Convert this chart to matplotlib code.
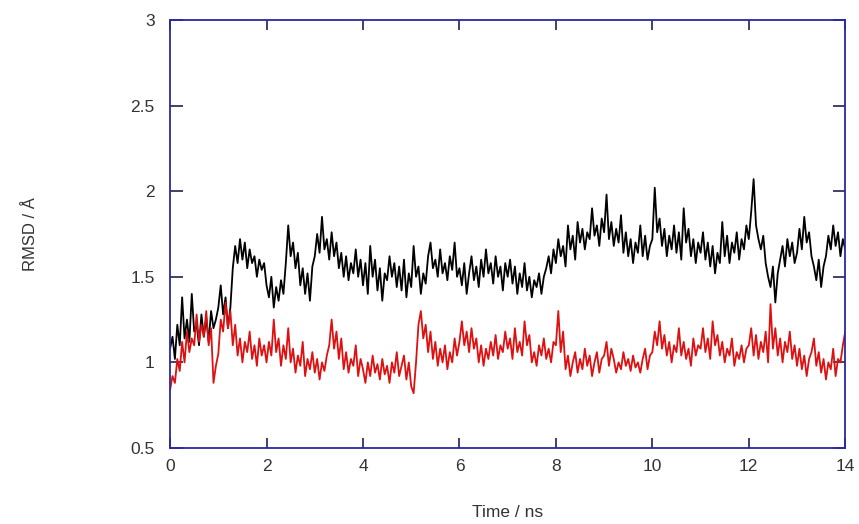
import numpy as np
import matplotlib.pyplot as plt

plt.rcParams['font.family'] = ['Liberation Sans', 'DejaVu Sans']

time_step = 0.05

rmsd_black = [
    1.08, 1.15, 1.02, 1.22, 1.10, 1.38, 1.14, 1.25, 1.12, 1.40, 1.18, 1.22, 1.10, 1.28, 1.15, 1.26, 1.12, 1.30, 1.20, 1.25,
    1.32, 1.45, 1.28, 1.38, 1.20, 1.32, 1.55, 1.68, 1.58, 1.72, 1.60, 1.70, 1.55, 1.66, 1.58, 1.62, 1.50, 1.60, 1.54, 1.58,
    1.45, 1.38, 1.50, 1.32, 1.44, 1.36, 1.48, 1.40, 1.58, 1.80, 1.62, 1.70, 1.55, 1.64, 1.45, 1.55, 1.40, 1.52, 1.36, 1.56,
    1.62, 1.75, 1.64, 1.85, 1.66, 1.72, 1.60, 1.76, 1.62, 1.70, 1.55, 1.64, 1.50, 1.62, 1.48, 1.58, 1.52, 1.66, 1.50, 1.60,
    1.45, 1.58, 1.40, 1.68, 1.50, 1.60, 1.42, 1.55, 1.36, 1.52, 1.48, 1.62, 1.50, 1.58, 1.44, 1.56, 1.42, 1.60, 1.38, 1.52,
    1.44, 1.68, 1.50, 1.56, 1.40, 1.52, 1.46, 1.62, 1.70, 1.55, 1.60, 1.50, 1.66, 1.52, 1.58, 1.48, 1.62, 1.54, 1.70, 1.50,
    1.55, 1.45, 1.58, 1.40, 1.52, 1.62, 1.48, 1.56, 1.44, 1.60, 1.50, 1.66, 1.52, 1.58, 1.46, 1.62, 1.50, 1.56, 1.42, 1.58,
    1.50, 1.60, 1.46, 1.56, 1.40, 1.52, 1.44, 1.58, 1.42, 1.50, 1.38, 1.48, 1.44, 1.52, 1.40, 1.50, 1.55, 1.62, 1.52, 1.66,
    1.58, 1.72, 1.62, 1.68, 1.56, 1.80, 1.66, 1.74, 1.60, 1.82, 1.70, 1.78, 1.66, 1.76, 1.72, 1.90, 1.74, 1.80, 1.68, 1.84,
    1.76, 1.98, 1.72, 1.82, 1.68, 1.78, 1.70, 1.86, 1.64, 1.76, 1.62, 1.72, 1.58, 1.70, 1.64, 1.80, 1.62, 1.74, 1.60, 1.68,
    1.72, 2.02, 1.76, 1.84, 1.68, 1.78, 1.62, 1.74, 1.66, 1.80, 1.64, 1.76, 1.60, 1.90, 1.70, 1.78, 1.62, 1.72, 1.58, 1.70,
    1.64, 1.76, 1.60, 1.70, 1.56, 1.68, 1.52, 1.64, 1.58, 1.82, 1.62, 1.74, 1.58, 1.70, 1.64, 1.76, 1.60, 1.72, 1.66, 1.80,
    1.72, 1.88, 2.07, 1.80, 1.72, 1.66, 1.74, 1.58, 1.50, 1.44, 1.56, 1.35, 1.52, 1.60, 1.68, 1.56, 1.72, 1.62, 1.70, 1.58,
    1.64, 1.78, 1.66, 1.85, 1.70, 1.76, 1.62, 1.56, 1.48, 1.60, 1.44, 1.56, 1.62, 1.74, 1.66, 1.80, 1.68, 1.76, 1.62, 1.72,
    1.66,
]

rmsd_red = [
    0.84, 0.92, 0.88, 1.02, 0.95, 1.12, 1.00, 1.18, 1.06, 1.14, 1.10, 1.28, 1.12, 1.22, 1.15, 1.30, 1.10, 1.20, 0.88, 0.98,
    1.05, 1.25, 1.18, 1.35, 1.20, 1.30, 1.10, 1.22, 1.04, 1.14, 1.00, 1.12, 1.06, 1.18, 1.02, 1.10, 0.98, 1.14, 1.04, 1.10,
    1.00, 1.12, 1.04, 1.25, 1.06, 1.14, 0.98, 1.10, 1.02, 1.20, 1.00, 1.08, 0.94, 1.04, 0.98, 1.12, 0.92, 1.02, 0.96, 1.06,
    0.94, 1.02, 0.90, 1.00, 0.95, 1.04, 1.10, 1.25, 1.08, 1.18, 1.02, 1.14, 0.96, 1.06, 0.94, 1.02, 0.98, 1.10, 0.92, 1.02,
    0.96, 0.88, 1.00, 0.92, 1.04, 0.94, 0.99, 0.90, 1.02, 0.93, 0.98, 0.88, 1.00, 0.94, 1.06, 0.92, 0.98, 1.04, 0.90, 1.00,
    0.86, 0.82, 1.00, 1.22, 1.30, 1.14, 1.22, 1.06, 1.18, 1.02, 1.12, 0.98, 1.08, 1.00, 1.10, 0.96, 1.06, 1.00, 1.14, 1.04,
    1.12, 1.24, 1.10, 1.18, 1.06, 1.20, 1.08, 1.14, 1.00, 1.10, 0.98, 1.08, 1.02, 1.12, 1.04, 1.16, 1.02, 1.10, 1.06, 1.18,
    1.08, 1.14, 1.02, 1.20, 1.06, 1.12, 1.04, 1.24, 1.10, 1.16, 1.00, 1.06, 0.98, 1.10, 1.04, 1.14, 1.02, 1.08, 1.00, 1.12,
    1.10, 1.30, 1.06, 1.18, 0.96, 1.04, 0.92, 1.00, 1.06, 0.94, 1.02, 0.96, 1.08, 0.98, 1.04, 0.92, 1.00, 1.06, 0.94, 1.02,
    1.04, 1.12, 0.98, 1.08, 1.02, 0.94, 1.00, 0.96, 1.06, 0.98, 1.02, 0.95, 1.04, 0.97, 1.00, 0.94, 1.02, 1.08, 0.96, 1.04,
    1.06, 1.18, 1.10, 1.24, 1.08, 1.16, 1.04, 1.12, 1.00, 1.10, 1.06, 1.20, 1.04, 1.12, 1.02, 1.08, 0.98, 1.14, 1.04, 1.10,
    1.08, 1.20, 1.06, 1.14, 1.02, 1.24, 1.10, 1.16, 1.04, 1.12, 1.00, 1.08, 1.04, 1.14, 0.98, 1.06, 1.02, 1.10, 1.00, 1.08,
    1.10, 1.20, 1.04, 1.16, 1.02, 1.12, 1.06, 1.18, 1.00, 1.34, 1.08, 1.20, 1.04, 1.14, 1.00, 1.12, 1.06, 1.18, 1.02, 1.10,
    0.98, 1.08, 0.96, 1.04, 0.92, 1.02, 1.06, 1.14, 0.98, 1.06, 0.94, 1.02, 0.90, 1.00, 0.96, 1.08, 0.92, 1.02, 1.00, 1.10,
    1.18,
]

x_ticks = [0, 2, 4, 6, 8, 10, 12, 14]
y_ticks = [0.5, 1, 1.5, 2, 2.5, 3]
y_tick_labels = ['0.5', '1', '1.5', '2', '2.5', '3']

t_black = np.arange(len(rmsd_black)) * time_step
t_red = np.arange(len(rmsd_red)) * time_step

fig = plt.figure(figsize=(8.59, 5.24), dpi=100)
ax = fig.add_axes([0.198, 0.145, 0.786, 0.817])

ax.plot(t_black, rmsd_black, color='black', lw=1.3)
ax.plot(t_red, rmsd_red, color='#dd1111', lw=1.3)

ax.set_xlim(0, 14)
ax.set_ylim(0.5, 3)
ax.set_xticks(x_ticks)
ax.set_yticks(y_ticks)
ax.set_yticklabels(y_tick_labels)

for s in ax.spines.values():
    s.set_color('#2a2aa0')
    s.set_linewidth(1.3)

ax.tick_params(axis='both', direction='in', top=True, right=True,
               color='#202050', width=1.2, labelsize=12.5, labelcolor='#333333')
ax.tick_params(axis='y', length=9, pad=11)
ax.tick_params(axis='x', length=7, pad=8)

ax.set_xlabel('Time / ns', fontsize=12.5, color='#333333', va='top')
ax.xaxis.set_label_coords(0.5, -0.133)
ax.set_ylabel('RMSD / Å', fontsize=12, color='#333333', va='bottom')
ax.yaxis.set_label_coords(-0.195, 0.5)

fig.savefig('out.png', dpi=100, facecolor='white')
